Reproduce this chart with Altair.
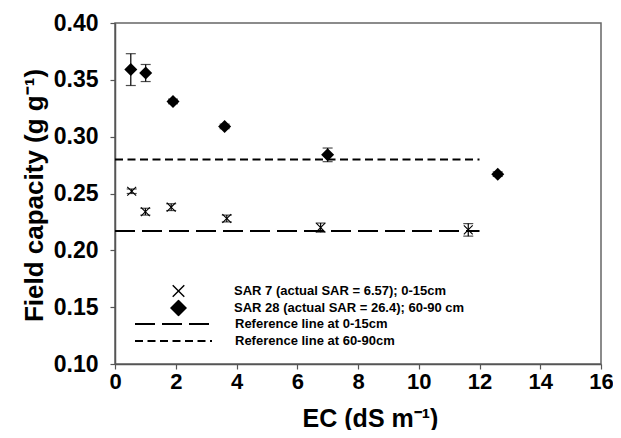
import altair as alt
import pandas as pd

# ---- data ----
ec_sar7 = [0.55, 1.00, 1.85, 3.68, 6.77, 11.63]
fc_sar7 = [0.252, 0.234, 0.238, 0.228, 0.220, 0.218]
err_sar7 = [0.002, 0.003, 0.003, 0.003, 0.004, 0.0055]

ec_sar28 = [0.52, 1.01, 1.91, 3.61, 7.00, 12.60]
fc_sar28 = [0.359, 0.356, 0.331, 0.309, 0.284, 0.267]
err_sar28 = [0.014, 0.0075, 0.002, 0.002, 0.006, 0.002]

series_labels = ["SAR 7 (actual SAR = 6.57); 0-15cm",
                 "SAR 28 (actual SAR = 26.4); 60-90 cm"]
ref_labels = ["Reference line at 0-15cm", "Reference line at 60-90cm"]
ref_values = [0.217, 0.280]
ref_start = [0, 0]
ref_end = [12, 12]

x_ticks = [0, 2, 4, 6, 8, 10, 12, 14, 16]
y_ticks = [0.10, 0.15, 0.20, 0.25, 0.30, 0.35, 0.40]

FONT = "Liberation Sans"

pts = pd.DataFrame({
    "ec": ec_sar7 + ec_sar28,
    "fc": fc_sar7 + fc_sar28,
    "err": err_sar7 + err_sar28,
    "series": [series_labels[0]] * len(ec_sar7) + [series_labels[1]] * len(ec_sar28),
})
pts["lo"] = pts["fc"] - pts["err"]
pts["hi"] = pts["fc"] + pts["err"]

refs = pd.DataFrame({"y": ref_values, "x0": ref_start, "x1": ref_end, "ref": ref_labels})

# X-shaped polygon (filled) so that it can share a filled point mark with the diamond
e, a = 0.74, 0.12
x_path = (f"M{-e},{-e + a}L{-e + a},{-e}L0,{-a}L{e - a},{-e}L{e},{-e + a}L{a},0"
          f"L{e},{e - a}L{e - a},{e}L0,{a}L{-e + a},{e}L{-e},{e - a}L{-a},0Z")

x_scale = alt.Scale(domain=[0, 16], nice=False, zero=False)
y_scale = alt.Scale(domain=[0.10, 0.40], nice=False, zero=False)

AX = dict(grid=False, labelFlush=False, labelOverlap=False, tickSize=5,
          labelFont=FONT, labelFontWeight="bold", labelColor="black",
          titleFont=FONT, titleFontWeight="bold", titleColor="black",
          domainColor="#555555", domainWidth=1.5, tickColor="#555555", tickWidth=1.2)

x_axis = alt.Axis(values=x_ticks, title="EC (dS m\u207b\u00b9)", titleFontSize=25,
                  labelFontSize=22, labelPadding=2, titleX=255, titleY=62,
                  titleBaseline="alphabetic", titleAlign="center", **AX)
y_axis = alt.Axis(values=y_ticks, format=".2f", title="Field capacity (g g\u207b\u00b9)",
                  titleFontSize=26, labelFontSize=23, labelPadding=12, titleX=-68,
                  titleY=172, titleAlign="center", **AX)

LEG = dict(title=None, orient="none", padding=0, labelLimit=400, rowPadding=0,
           labelFont=FONT, labelFontSize=13, labelFontWeight="bold", labelColor="black")

base = alt.Chart(pts)

ref_rules = alt.Chart(refs).mark_rule(color="black", strokeWidth=2).encode(
    x=alt.X("x0:Q", scale=x_scale, axis=x_axis),
    x2="x1:Q",
    y=alt.Y("y:Q", scale=y_scale, axis=y_axis),
    strokeDash=alt.StrokeDash(
        "ref:N",
        scale=alt.Scale(domain=ref_labels, range=[[20, 7], [8, 4.5]]),
        legend=alt.Legend(legendX=19, legendY=292.5, clipHeight=17,
                          symbolSize=5929, symbolStrokeWidth=2, symbolStrokeColor="black",
                          labelOffset=22, **LEG),
    ),
)

err_rules = base.mark_rule(color="black", strokeWidth=1.2).encode(
    x=alt.X("ec:Q", scale=x_scale),
    y=alt.Y("lo:Q", scale=y_scale),
    y2="hi:Q",
)
caps_lo = base.mark_tick(orient="horizontal", color="black", size=10, thickness=1.2).encode(
    x=alt.X("ec:Q", scale=x_scale), y=alt.Y("lo:Q", scale=y_scale))
caps_hi = base.mark_tick(orient="horizontal", color="black", size=10, thickness=1.2).encode(
    x=alt.X("ec:Q", scale=x_scale), y=alt.Y("hi:Q", scale=y_scale))

points = base.mark_point(filled=True, opacity=1, color="black", size=169).encode(
    x=alt.X("ec:Q", scale=x_scale),
    y=alt.Y("fc:Q", scale=y_scale),
    shape=alt.Shape(
        "series:N",
        scale=alt.Scale(domain=series_labels, range=[x_path, "diamond"]),
        legend=alt.Legend(legendX=55, legendY=259.5, clipHeight=17,
                          symbolSize=289, symbolFillColor="black", symbolStrokeWidth=0,
                          labelOffset=47, **LEG),
    ),
)

chart = alt.layer(ref_rules, err_rules, caps_lo, caps_hi, points).properties(
    width=486, height=341,
    padding={"left": 107, "top": 15, "right": 12, "bottom": 66},
    autosize=alt.AutoSizeParams(type="none"),
    background="white",
).configure_view(
    stroke="#666666", strokeWidth=1.5
)

chart.save("out.html", embed_options={"renderer": "svg", "actions": False})
